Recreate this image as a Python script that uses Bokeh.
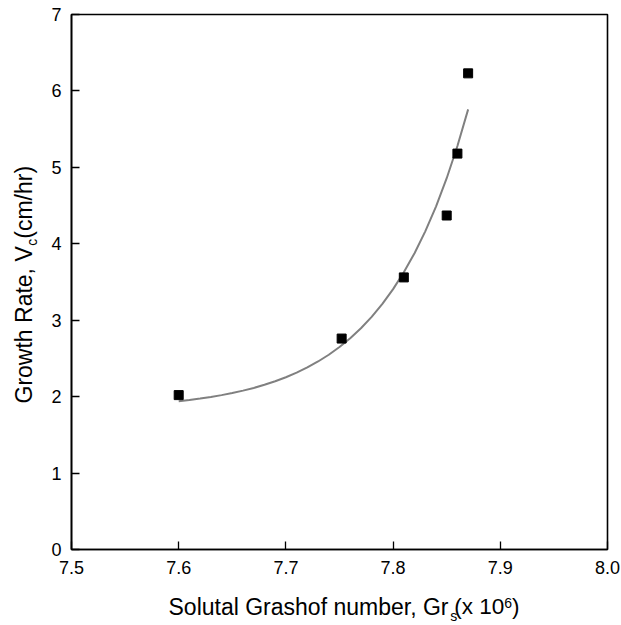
import math
from bokeh.plotting import figure
from bokeh.models import Range1d, FixedTicker
from bokeh.layouts import row, column
from bokeh.core.properties import value
from bokeh.embed import file_html
from bokeh.resources import INLINE

# ---- data ----
gr_points = [7.600, 7.752, 7.810, 7.850, 7.860, 7.870]
v_points = [2.02, 2.76, 3.56, 4.37, 5.18, 6.23]

gr_fit = [7.60, 7.61, 7.62, 7.63, 7.64, 7.65, 7.66, 7.67, 7.68, 7.69,
          7.70, 7.71, 7.72, 7.73, 7.74, 7.75, 7.76, 7.77, 7.78, 7.79,
          7.80, 7.81, 7.82, 7.83, 7.84, 7.85, 7.86, 7.87]
v_fit = [1.940, 1.956, 1.975, 1.996, 2.020, 2.047, 2.079, 2.114, 2.155, 2.201,
         2.254, 2.314, 2.382, 2.460, 2.548, 2.649, 2.764, 2.895, 3.044, 3.214,
         3.407, 3.627, 3.877, 4.163, 4.487, 4.858, 5.279, 5.759]

x_ticks = [7.5, 7.6, 7.7, 7.8, 7.9, 8.0]
y_ticks = [0, 1, 2, 3, 4, 5, 6, 7]

x_title = ["Solutal Grashof number, Gr", "s", "(x 10", "6", ")"]
y_title = ["Growth Rate, V", "c", "(cm/hr)"]

FONT = "Liberation Sans"

# ---- layout (page pixels) ----
TOTAL_W, TOTAL_H = 621, 625
YT_W = 40                      # strip holding the y title
MAIN_W = TOTAL_W - YT_W
MAIN_H = 585
XT_H = TOTAL_H - MAIN_H        # strip holding the x title
FRAME_L, FRAME_R, FRAME_T, FRAME_B = 71, 607, 14, 549


def bare(w, h, xr, yr):
    f = figure(width=w, height=h, output_backend="svg", toolbar_location=None,
               x_range=Range1d(*xr), y_range=Range1d(*yr),
               x_axis_location=None, y_axis_location=None,
               min_border=0, min_border_left=0, min_border_right=0,
               min_border_top=0, min_border_bottom=0)
    f.title.visible = False
    f.grid.visible = False
    f.outline_line_color = None
    f.background_fill_color = "white"
    f.border_fill_color = "white"
    return f


p = figure(width=MAIN_W, height=MAIN_H, output_backend="svg",
           toolbar_location=None,
           x_range=Range1d(7.5, 8.0), y_range=Range1d(0, 7),
           min_border_left=FRAME_L - YT_W,
           min_border_right=TOTAL_W - FRAME_R,
           min_border_top=FRAME_T,
           min_border_bottom=MAIN_H - FRAME_B)
p.title.visible = False
p.grid.visible = False
p.outline_line_color = "black"
p.outline_line_width = 1.6
p.background_fill_color = "white"
p.border_fill_color = "white"

for ax in (p.xaxis[0], p.yaxis[0]):
    ax.axis_line_color = "black"
    ax.axis_line_width = 1.6
    ax.major_tick_line_color = "black"
    ax.major_tick_line_width = 1.3
    ax.major_tick_in = 8
    ax.major_tick_out = 0
    ax.minor_tick_line_color = None
    ax.major_label_text_font = FONT
    ax.major_label_text_font_size = "18px"
    ax.major_label_text_color = "black"
    ax.axis_label = None

p.xaxis[0].ticker = FixedTicker(ticks=x_ticks)
p.yaxis[0].ticker = FixedTicker(ticks=y_ticks)
p.xaxis[0].major_label_overrides = {t: f"{t:.1f}" for t in x_ticks}
p.yaxis[0].major_label_overrides = {t: f"{t}" for t in y_ticks}
p.xaxis[0].major_label_standoff = 11
p.yaxis[0].major_label_standoff = 10

p.line(gr_fit, v_fit, line_color="#808080", line_width=2)
p.scatter(gr_points, v_points, marker="square", size=9,
          fill_color="black", line_color="black")

# ---- axis titles (with sub/superscripts) ----
F = 23
F2 = 22.5
FS = 14
EM_MAIN_X, EM_S, EM_MID, EM_SIX = 12.227, 0.5, 2.223, 0.556
EM_MAIN_Y, EM_C = 6.836, 0.5


def put(fig, txt, x, y, size, angle=0.0):
    fig.text(x=[x], y=[y], text=[txt], angle=angle,
             text_font=value(FONT), text_font_size=f"{size}px",
             text_color="black", text_align="left",
             text_baseline="middle")


# x title strip: its frame is aligned with the main frame, so data x = page x;
# data y = distance above the page bottom.
xt = bare(MAIN_W, XT_H, (FRAME_L, FRAME_R), (0, XT_H))
cx = 168.0
put(xt, x_title[0], cx, TOTAL_H - 606, F)
cx += EM_MAIN_X * F + 0.5
put(xt, x_title[1], cx, TOTAL_H - 615, FS)
cx += EM_S * FS - 3.0
put(xt, x_title[2], cx, TOTAL_H - 606, F2)
cx += EM_MID * F2
put(xt, x_title[3], cx, TOTAL_H - 602.5, FS)
cx += EM_SIX * FS
put(xt, x_title[4], cx, TOTAL_H - 606, F2)

# y title strip: data x = page x, data y = distance above the page bottom
yt = bare(YT_W, TOTAL_H, (0, YT_W), (0, TOTAL_H))
cy = TOTAL_H - 403
put(yt, y_title[0], 23.5, cy, F, math.pi / 2)
cy += EM_MAIN_Y * F + 0.5
put(yt, y_title[1], 31.2, cy, FS, math.pi / 2)
cy += EM_C * FS
put(yt, y_title[2], 23.5, cy, F, math.pi / 2)

layout = row(yt, column(p, xt))
open("out.html", "w").write(file_html(layout, INLINE))
